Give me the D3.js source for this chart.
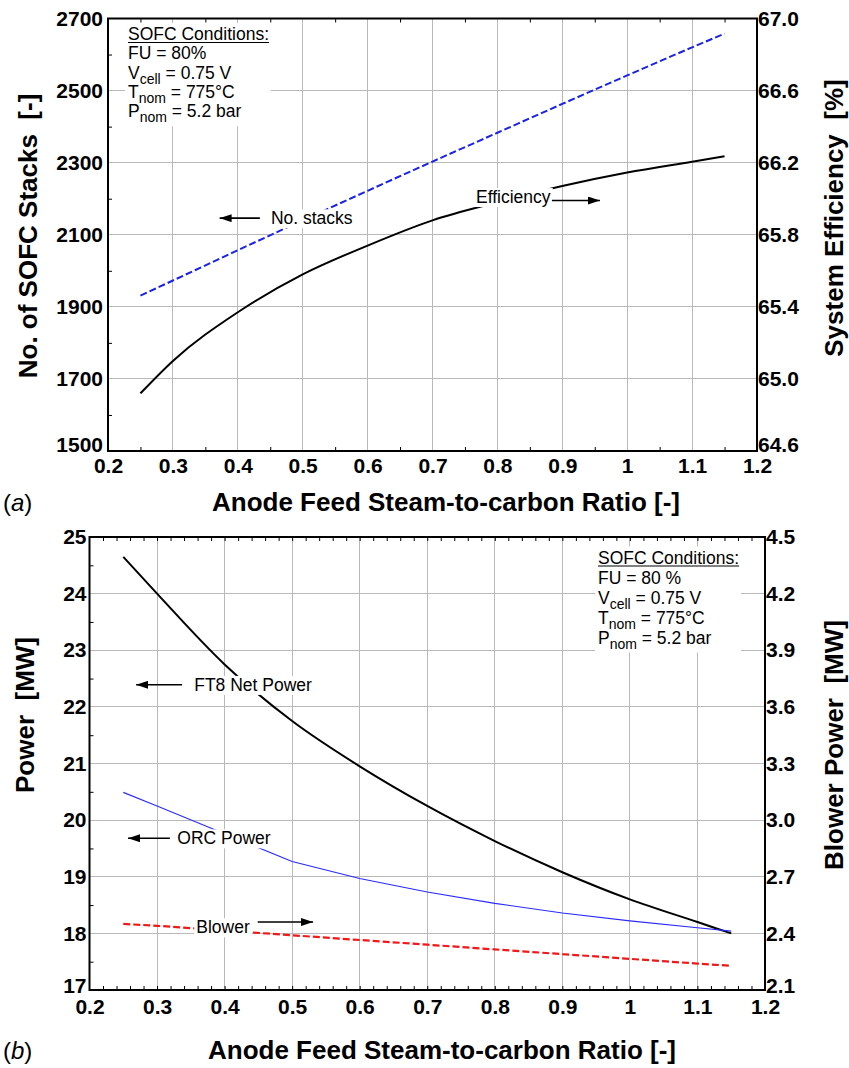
<!doctype html>
<html>
<head>
<meta charset="utf-8">
<title>SOFC - anode feed steam-to-carbon ratio</title>
<style>
  body { margin: 0; background: #fff; }
  svg { display: block; font-family: "Liberation Sans", Arial, sans-serif; }
  .grid line { stroke: #b9b9b9; stroke-width: 1; shape-rendering: crispEdges; }
  .minor line { stroke: #000; stroke-width: 1; }
  .minor path { display: none; }
  .lbl path { display: none; }
  .lbl text { font-family: "Liberation Sans", Arial, sans-serif; font-size: 21px; font-weight: bold; fill: #000; }
  .ax-title { font-size: 26px; font-weight: bold; }
  .note { font-size: 17.5px; }
  .panel-id { font-size: 24px; }
</style>
</head>
<script src="https://d3js.org/d3.v7.min.js"></script>
<body>
<svg width="849" height="1068"></svg>
<script>
// steam-to-carbon ratio (x, both panels)
var STCR = [0.25, 0.3, 0.4, 0.5, 0.6, 0.7, 0.8, 0.9, 1.0, 1.1, 1.15];

// panel (a)
var NO_STACKS  = [1931, 1973, 2057, 2140, 2222, 2303, 2383, 2463, 2542, 2620, 2658];
var EFFICIENCY = [64.92, 65.10, 65.37, 65.58, 65.74, 65.88, 65.98, 66.07, 66.145, 66.205, 66.235];

// panel (b)
var FT8_POWER    = [24.65, 24.0, 22.75, 21.75, 20.95, 20.25, 19.63, 19.08, 18.6, 18.2, 18.0];
var ORC_POWER    = [20.49, 20.25, 19.76, 19.27, 18.97, 18.73, 18.53, 18.36, 18.22, 18.1, 18.04];
var BLOWER_POWER = [2.45, 2.44, 2.415, 2.39, 2.365, 2.34, 2.315, 2.29, 2.265, 2.24, 2.228];

// ticks
var X_TICKS      = [0.2, 0.3, 0.4, 0.5, 0.6, 0.7, 0.8, 0.9, 1.0, 1.1, 1.2];
var STACK_TICKS  = [1500, 1700, 1900, 2100, 2300, 2500, 2700];
var EFF_TICKS    = [64.6, 65.0, 65.4, 65.8, 66.2, 66.6, 67.0];
var POWER_TICKS  = [17, 18, 19, 20, 21, 22, 23, 24, 25];
var BLOWER_TICKS = [2.1, 2.4, 2.7, 3.0, 3.3, 3.6, 3.9, 4.2, 4.5];

var SOFC_NOTE_A = [["SOFC Conditions:"], ["FU = 80%"], ["V", "cell", " = 0.75 V"], ["T", "nom", " = 775°C"], ["P", "nom", " = 5.2 bar"]];
var SOFC_NOTE_B = [["SOFC Conditions:"], ["FU = 80 %"], ["V", "cell", " = 0.75 V"], ["T", "nom", " = 775°C"], ["P", "nom", " = 5.2 bar"]];

var X_TITLE = "Anode Feed Steam-to-carbon Ratio [-]";

var svg = d3.select("svg");

svg.append("defs").append("marker")
   .attr("id", "arrow")
   .attr("markerUnits", "userSpaceOnUse")
   .attr("markerWidth", 12).attr("markerHeight", 8)
   .attr("refX", 12).attr("refY", 4)
   .attr("orient", "auto")
   .append("path").attr("d", "M0,0 L12,4 L0,8 Z").attr("fill", "#000");

function xFmt(d) { return d === 1 ? "1" : d3.format(".1f")(d); }

function drawPanel(p)
{
   var g = svg.append("g");
   var xs = d3.scaleLinear().domain([0.2, 1.2]).range([p.left, p.right]);
   var yl = d3.scaleLinear().domain(d3.extent(p.leftTicks)).range([p.bottom, p.top]);
   var yr = d3.scaleLinear().domain(d3.extent(p.rightTicks)).range([p.bottom, p.top]);

   // grid
   var grid = g.append("g").attr("class", "grid");
   grid.selectAll(".gx").data(X_TICKS.slice(1, -1)).join("line")
      .attr("x1", xs).attr("x2", xs).attr("y1", p.top).attr("y2", p.bottom);
   grid.selectAll(".gy").data(p.leftTicks.slice(1, -1)).join("line")
      .attr("x1", p.left).attr("x2", p.right).attr("y1", yl).attr("y2", yl);

   // curves
   p.series.forEach(function(s) {
      var ys = s.axis === "left" ? yl : yr;
      var line = d3.line()
         .x(function(d, i) { return xs(STCR[i]); })
         .y(function(d) { return ys(d); })
         .curve(s.curve || d3.curveMonotoneX);
      g.append("path")
         .attr("d", line(s.values))
         .attr("fill", "none")
         .attr("stroke", s.color)
         .attr("stroke-width", s.width)
         .attr("stroke-dasharray", s.dash || null);
   });

   // labels with white background, arrows
   p.labels.forEach(function(l) {
      var ys = l.axis === "left" ? yl : yr;
      var t = g.append("text").attr("class", "note")
         .attr("x", xs(l.x)).attr("y", ys(l.y)).attr("dy", "0.35em")
         .text(l.text);
      var b = t.node().getBBox();
      g.insert("rect", function() { return t.node(); })
         .attr("x", b.x - 2).attr("y", b.y + 1).attr("width", b.width + 4).attr("height", b.height - 1)
         .attr("fill", "#fff");
      var ay = ys(l.ay);
      g.append("line")
         .attr("x1", xs(l.a1)).attr("x2", xs(l.a2)).attr("y1", ay).attr("y2", ay)
         .attr("stroke", "#000").attr("stroke-width", 1.6)
         .attr("marker-end", "url(#arrow)");
   });

   // SOFC conditions box
   var nb = g.append("g");
   var bg = nb.append("rect").attr("fill", "#fff");
   p.note.forEach(function(parts, i) {
      var t = nb.append("text").attr("class", "note")
         .attr("x", p.noteX).attr("y", p.noteY + i * p.noteDy);
      t.append("tspan").text(parts[0]);
      if (parts.length > 1) {
         t.append("tspan").attr("dy", 5).style("font-size", "14px").text(parts[1]);
         t.append("tspan").attr("dy", -5).text(parts[2]);
      }
      if (i === 0) {
         var b = t.node().getBBox();
         nb.append("line")
            .attr("x1", b.x).attr("x2", b.x + b.width)
            .attr("y1", p.noteY + 2.5).attr("y2", p.noteY + 2.5)
            .attr("stroke", "#000").attr("stroke-width", 1);
      }
   });
   var nbb = nb.node().getBBox();
   bg.attr("x", nbb.x - 3).attr("y", nbb.y - 1).attr("width", nbb.width + 5).attr("height", nbb.height + 2);

   // minor ticks (inward)
   g.append("g").attr("class", "minor")
      .attr("transform", "translate(0," + p.bottom + ")")
      .call(d3.axisBottom(xs).tickValues(p.xMinor).tickSize(-4).tickFormat(""));
   g.append("g").attr("class", "minor")
      .attr("transform", "translate(0," + p.top + ")")
      .call(d3.axisTop(xs).tickValues(p.xMinor).tickSize(-4).tickFormat(""));
   g.append("g").attr("class", "minor")
      .attr("transform", "translate(" + p.left + ",0)")
      .call(d3.axisLeft(yl).tickValues(p.yMinor).tickSize(-4).tickFormat(""));

   // frame
   g.append("rect")
      .attr("x", p.left).attr("y", p.top)
      .attr("width", p.right - p.left).attr("height", p.bottom - p.top)
      .attr("fill", "none").attr("stroke", "#000").attr("stroke-width", 2);

   // tick labels
   g.append("g").attr("class", "lbl")
      .attr("transform", "translate(0," + p.bottom + ")")
      .call(d3.axisBottom(xs).tickValues(X_TICKS).tickSize(0).tickPadding(p.padB).tickFormat(xFmt));
   var la = g.append("g").attr("class", "lbl")
      .attr("transform", "translate(" + p.left + ",0)")
      .call(d3.axisLeft(yl).tickValues(p.leftTicks).tickSize(0).tickPadding(p.padL).tickFormat(d3.format("d")));
   var ra = g.append("g").attr("class", "lbl")
      .attr("transform", "translate(" + p.right + ",0)")
      .call(d3.axisRight(yr).tickValues(p.rightTicks).tickSize(0).tickPadding(1).tickFormat(d3.format(".1f")));
   // lowest y labels sit a little above the corner
   la.selectAll("text").filter(function(d) { return d === p.leftTicks[0]; }).attr("y", -p.lift);
   ra.selectAll("text").filter(function(d) { return d === p.rightTicks[0]; }).attr("y", -p.lift);

   // titles
   g.append("text").attr("class", "ax-title")
      .attr("x", p.xTitleX).attr("y", p.xTitleY).attr("text-anchor", "middle")
      .text(X_TITLE);
   g.append("text").attr("class", "panel-id")
      .attr("x", 3).attr("y", p.xTitleY)
      .html("(<tspan font-style='italic'>" + p.id + "</tspan>)");
   g.append("text").attr("class", "ax-title")
      .attr("transform", "translate(" + p.lTitleX + "," + p.lTitleY + ") rotate(-90)")
      .attr("text-anchor", "middle").attr("xml:space", "preserve")
      .text(p.leftTitle);
   g.append("text").attr("class", "ax-title")
      .attr("transform", "translate(" + p.rTitleX + "," + p.rTitleY + ") rotate(-90)")
      .attr("text-anchor", "middle").attr("xml:space", "preserve")
      .text(p.rightTitle);
}

drawPanel({
   id: "a", left: 108, right: 757, top: 18.5, bottom: 451,
   leftTicks: STACK_TICKS, rightTicks: EFF_TICKS, padL: 5, padB: 7, lift: 6,
   xMinor: d3.range(0.25, 1.2, 0.1), yMinor: d3.range(1600, 2700, 200),
   series: [
      { values: NO_STACKS,  axis: "left",  color: "#1a22e6", width: 2, dash: "7,3" },
      { values: EFFICIENCY, axis: "right", color: "#000",    width: 2 }
   ],
   labels: [
      { text: "No. stacks", axis: "left", x: 0.451, y: 2146, a1: 0.434, a2: 0.372, ay: 2146 },
      { text: "Efficiency", axis: "right", x: 0.767, y: 66.01, a1: 0.884, a2: 0.958, ay: 65.99 }
   ],
   note: SOFC_NOTE_A, noteX: 128, noteY: 40, noteDy: 19.3,
   xTitleX: 446, xTitleY: 511,
   leftTitle: "No. of SOFC Stacks  [-]", lTitleX: 37, lTitleY: 236,
   rightTitle: "System Efficiency  [%]", rTitleX: 843, rTitleY: 218
});

drawPanel({
   id: "b", left: 89.5, right: 765, top: 537, bottom: 990,
   leftTicks: POWER_TICKS, rightTicks: BLOWER_TICKS, padL: 3, padB: 9, lift: 4,
   xMinor: d3.range(0.22, 1.2, 0.02), yMinor: d3.range(17.5, 25, 1),
   series: [
      { values: FT8_POWER,    axis: "left",  color: "#000",    width: 2 },
      { values: ORC_POWER,    axis: "left",  color: "#2a2aff", width: 1.1, curve: d3.curveLinear },
      { values: BLOWER_POWER, axis: "right", color: "#f01818", width: 2.2, dash: "7,3" }
   ],
   labels: [
      { text: "FT8 Net Power", axis: "left", x: 0.355, y: 22.39, a1: 0.337, a2: 0.269, ay: 22.39 },
      { text: "ORC Power",     axis: "left", x: 0.330, y: 19.68, a1: 0.319, a2: 0.257, ay: 19.68 },
      { text: "Blower",        axis: "left", x: 0.358, y: 18.11, a1: 0.449, a2: 0.531, ay: 18.20 }
   ],
   note: SOFC_NOTE_B, noteX: 598, noteY: 563.5, noteDy: 20,
   xTitleX: 442, xTitleY: 1059,
   leftTitle: "Power  [MW]", lTitleX: 34, lTitleY: 715,
   rightTitle: "Blower Power  [MW]", rTitleX: 843, rTitleY: 745
});
</script>
</body>
</html>
